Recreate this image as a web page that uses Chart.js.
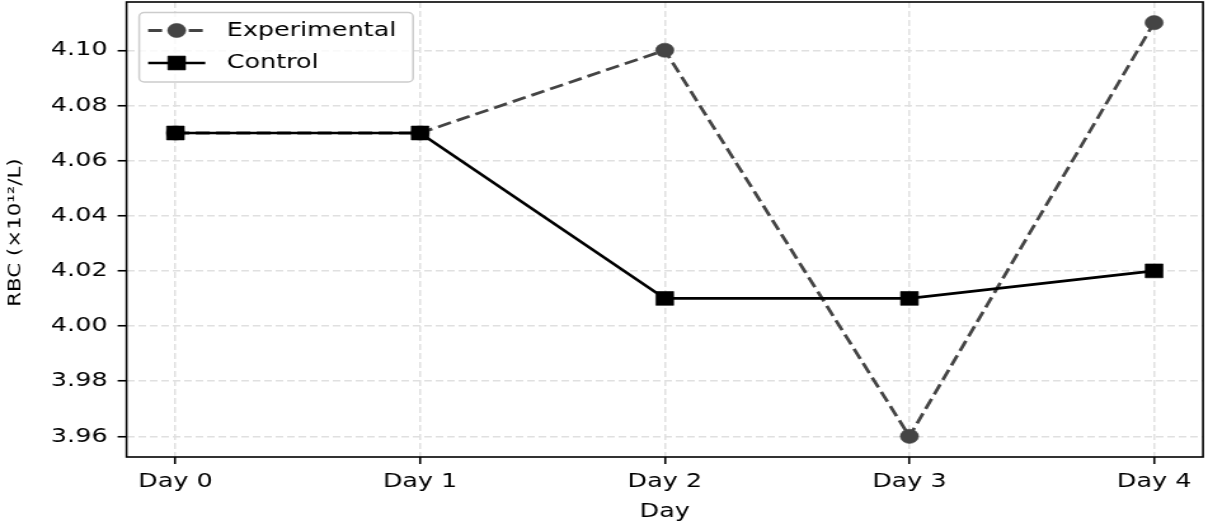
<!DOCTYPE html>
<html>
<head>
<meta charset="utf-8">
<script src="https://cdn.jsdelivr.net/npm/chart.js@4.4.1/dist/chart.umd.min.js"></script>
<style>
  html, body { margin: 0; padding: 0; background: #fff; overflow: hidden; }
  #wrap {
    position: absolute; left: 0; top: 0;
    width: 951px; height: 528px;
    transform: scaleX(1.2702); transform-origin: 0 0;
  }
</style>
</head>
<body>
<div id="wrap"><canvas id="rbcChart" width="951" height="528"></canvas></div>
<script>
// Red blood cell counts per day (x10^12/L)
const dayLabels = ['Day 0', 'Day 1', 'Day 2', 'Day 3', 'Day 4'];
const experimental = [4.07, 4.07, 4.10, 3.96, 4.11];
const control = [4.07, 4.07, 4.01, 4.01, 4.02];
const yTickValues = [3.96, 3.98, 4.00, 4.02, 4.04, 4.06, 4.08, 4.10];
const yRange = [3.9525, 4.1175];
const xRange = [-0.2, 4.2];
const yAxisTitle = 'RBC (×10¹²/L)';

const FONT = 'DejaVu Sans';

const toPoints = arr => arr.map((y, i) => ({ x: i, y }));

// Full black frame round the plot area
const frame = {
  id: 'frame',
  afterDatasetsDraw(chart) {
    const { ctx, chartArea: a } = chart;
    ctx.save();
    ctx.strokeStyle = '#000';
    ctx.lineWidth = 1.6;
    ctx.setLineDash([]);
    ctx.strokeRect(a.left, a.top, a.right - a.left, a.bottom - a.top);
    ctx.restore();
  }
};

// Narrow rotated y-axis title, centred on the plot area
const yTitle = {
  id: 'yTitle',
  afterDraw(chart) {
    const { ctx, chartArea: a } = chart;
    ctx.save();
    ctx.translate(12.6, (a.top + a.bottom) / 2 + 3);
    ctx.scale(0.66, 1);
    ctx.rotate(-Math.PI / 2);
    ctx.font = '21.3px "' + FONT + '"';
    ctx.fillStyle = '#000';
    ctx.textAlign = 'center';
    ctx.textBaseline = 'middle';
    ctx.fillText(yAxisTitle, 0, 0);
    ctx.restore();
  }
};

// Legend with line + marker handles in the upper-left corner
const lineLegend = {
  id: 'lineLegend',
  afterDatasetsDraw(chart) {
    const { ctx, chartArea: a } = chart;
    const x0 = a.left + 10, y0 = a.top + 10.5, w = 215.6, h = 69.4;
    ctx.save();
    ctx.beginPath();
    ctx.roundRect(x0, y0, w, h, 4);
    ctx.fillStyle = 'rgba(255,255,255,0.8)';
    ctx.fill();
    ctx.strokeStyle = '#cccccc';
    ctx.lineWidth = 1.5;
    ctx.stroke();
    const rows = [y0 + 18, y0 + 50.5];
    chart.data.datasets.forEach((ds, i) => {
      const y = rows[i];
      const hx0 = x0 + 7, hx1 = x0 + 52, mx = (hx0 + hx1) / 2;
      ctx.beginPath();
      ctx.setLineDash(ds.borderDash || []);
      ctx.lineWidth = ds.borderWidth;
      ctx.strokeStyle = ds.borderColor;
      ctx.moveTo(hx0, y);
      ctx.lineTo(hx1, y);
      ctx.stroke();
      ctx.setLineDash([]);
      ctx.fillStyle = ds.pointBackgroundColor;
      ctx.strokeStyle = ds.pointBorderColor;
      ctx.lineWidth = ds.pointBorderWidth;
      Chart.helpers.drawPoint(ctx, {
        pointStyle: ds.pointStyle, radius: ds.pointRadius,
        borderWidth: ds.pointBorderWidth, rotation: 0
      }, mx, y);
      ctx.fillStyle = '#000';
      ctx.font = '20px "' + FONT + '"';
      ctx.textBaseline = 'middle';
      ctx.textAlign = 'left';
      ctx.fillText(ds.label, x0 + 69, y);
    });
    ctx.restore();
  }
};

const gridOpts = {
  color: '#e0e0e0',
  lineWidth: 1.5,
  tickLength: 7,
  tickColor: '#000',
  tickWidth: 1.6,
  tickBorderDash: []
};

new Chart(document.getElementById('rbcChart'), {
  type: 'line',
  data: {
    datasets: [
      {
        label: 'Experimental',
        data: toPoints(experimental),
        borderColor: '#444444',
        borderWidth: 2.8,
        borderDash: [11, 5],
        pointStyle: 'circle',
        pointRadius: 7.1,
        pointBorderWidth: 0.6,
        pointBackgroundColor: '#444444',
        pointBorderColor: '#444444',
        tension: 0,
        order: 2
      },
      {
        label: 'Control',
        data: toPoints(control),
        borderColor: '#000000',
        borderWidth: 2.7,
        borderDash: [],
        pointStyle: 'rect',
        pointRadius: 9.8,
        pointBorderWidth: 0.6,
        pointBackgroundColor: '#000000',
        pointBorderColor: '#000000',
        tension: 0,
        order: 1
      }
    ]
  },
  options: {
    responsive: false,
    animation: false,
    devicePixelRatio: 1,
    layout: { autoPadding: false, padding: { left: 0, top: 2, right: 3.9, bottom: 0 } },
    plugins: {
      legend: { display: false },
      tooltip: { enabled: false }
    },
    scales: {
      x: {
        type: 'linear',
        min: xRange[0],
        max: xRange[1],
        afterBuildTicks: s => { s.ticks = dayLabels.map((_, i) => ({ value: i })); },
        afterFit: s => {
          s.height = 71;
          s.paddingLeft = 0; s.paddingRight = 0;
        },
        ticks: {
          callback: v => dayLabels[v],
          font: { family: FONT, size: 20 },
          color: '#000',
          padding: 6,
          maxRotation: 0,
          autoSkip: false
        },
        grid: gridOpts,
        border: { display: false, dash: [6, 3] },
        title: {
          display: true,
          text: 'Day',
          font: { family: FONT, size: 20 },
          color: '#000',
          padding: { top: 0, bottom: 4 }
        }
      },
      y: {
        type: 'linear',
        min: yRange[0],
        max: yRange[1],
        afterBuildTicks: s => { s.ticks = yTickValues.map(v => ({ value: v })); },
        afterFit: s => {
          s.width = 99.6;
          s.paddingTop = 0; s.paddingBottom = 0;
        },
        ticks: {
          callback: v => v.toFixed(2),
          font: { family: FONT, size: 20 },
          color: '#000',
          padding: 8
        },
        grid: gridOpts,
        border: { display: false, dash: [6, 3] }
      }
    }
  },
  plugins: [frame, lineLegend, yTitle]
});
</script>
</body>
</html>
